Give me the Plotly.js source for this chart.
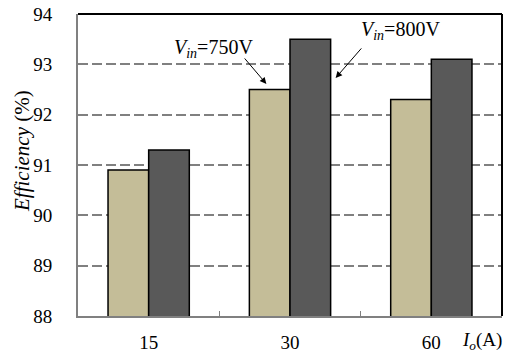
<!DOCTYPE html>
<html><head><meta charset="utf-8">
<script src="https://cdn.plot.ly/plotly-3.0.1.min.js"></script>
<style>html,body{margin:0;padding:0;background:#fff;}#chart{width:506px;height:355px;}</style>
</head><body><div id="chart"></div>
<script>
const categories = ["15", "30", "60"];
const eff750 = [90.9, 92.5, 92.3];
const eff800 = [91.3, 93.5, 93.1];
const yTicks = [88, 89, 90, 91, 92, 93, 94];

const FONT = "Times New Roman, Liberation Serif, Tinos, serif";
const data = [
  {type: "bar", x: categories, y: eff750, name: "750V",
   marker: {color: "#c4bd98", line: {color: "#000", width: 1.5}}},
  {type: "bar", x: categories, y: eff800, name: "800V",
   marker: {color: "#595959", line: {color: "#000", width: 1.5}}}
];
const layout = {
  width: 506, height: 355,
  margin: {l: 78, r: 4, t: 14, b: 39},
  paper_bgcolor: "#fff", plot_bgcolor: "#fff",
  showlegend: false,
  barmode: "group", bargap: 0.425, bargroupgap: 0,
  font: {family: FONT, size: 19, color: "#000"},
  xaxis: {type: "category", showgrid: false, showline: true, linecolor: "#808080", linewidth: 2,
          ticks: "inside", tickson: "boundaries", ticklen: 5, tickcolor: "#808080", tickwidth: 1.5,
          tickfont: {family: FONT, size: 19}, ticklabelstandoff: 8},
  yaxis: {range: [88, 94], tickvals: yTicks, ticktext: yTicks.map(String), showgrid: true,
          gridcolor: "#808080", griddash: "10px,4px", gridwidth: 2, zeroline: false,
          showline: true, linecolor: "#808080", linewidth: 2, ticks: "",
          tickfont: {family: FONT, size: 19}, ticklabelstandoff: 20},
  shapes: [
    {type: "line", xref: "paper", yref: "paper", x0: 0, x1: 1, y0: 1, y1: 1, line: {color: "#000", width: 2}},
    {type: "line", xref: "paper", yref: "paper", x0: 1, x1: 1, y0: 0, y1: 1, line: {color: "#000", width: 2}}
  ],
  annotations: [
    {x: 0.833, y: 92.61, xref: "x", yref: "y", text: "", showarrow: true, ax: -23, ay: -27,
     arrowhead: 2, arrowsize: 1.3, arrowwidth: 1, arrowcolor: "#000"},
    {x: 1.323, y: 92.73, xref: "x", yref: "y", text: "", showarrow: true, ax: 27, ay: -31,
     arrowhead: 2, arrowsize: 1.3, arrowwidth: 1, arrowcolor: "#000"},
    {x: 0.457, y: 93.32, xref: "x", yref: "y", text: "<i>V<sub>in</sub></i>=750V", showarrow: false,
     xanchor: "center", yanchor: "middle", font: {family: FONT, size: 20}},
    {x: 1.784, y: 93.68, xref: "x", yref: "y", text: "<i>V<sub>in</sub></i>=800V", showarrow: false,
     xanchor: "center", yanchor: "middle", font: {family: FONT, size: 20}},
    {x: (482 - 78) / 424, y: -(341 - 316) / 302, xref: "paper", yref: "paper",
     text: "<i>I<sub>o</sub></i>(A)", showarrow: false, xanchor: "center", yanchor: "middle",
     font: {family: FONT, size: 19}},
    {x: (22 - 78) / 424, y: (316 - 151) / 302, xref: "paper", yref: "paper",
     text: "<i>Efficiency</i> (%)", showarrow: false, textangle: -90, xanchor: "center", yanchor: "middle",
     font: {family: FONT, size: 21}}
  ]
};
Plotly.newPlot("chart", data, layout, {displayModeBar: false, staticPlot: true});
</script></body></html>
